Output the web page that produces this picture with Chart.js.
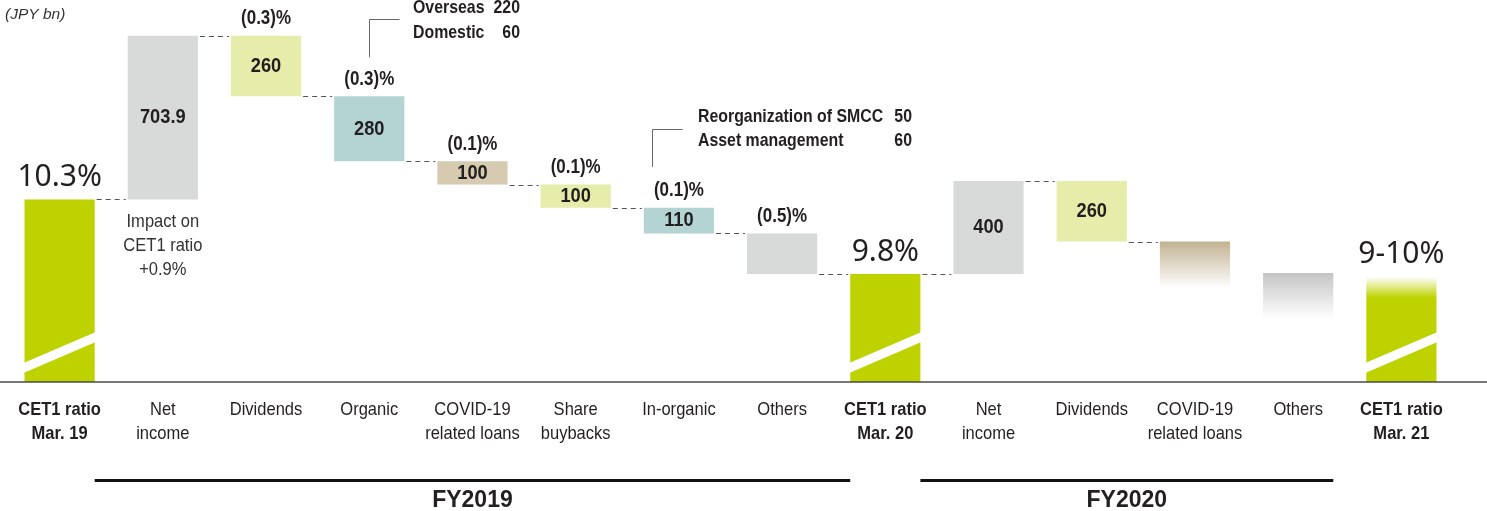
<!DOCTYPE html>
<html>
<head>
<meta charset="utf-8">
<script src="https://cdn.jsdelivr.net/npm/chart.js@4.4.1/dist/chart.umd.min.js"></script>
<style>
  html, body { margin: 0; padding: 0; background: #fff; }
</style>
</head>
<body>
<canvas id="myChart" width="1487" height="511"></canvas>
<script>
const categories = [
    ['CET1 ratio', 'Mar. 19'], ['Net', 'income'], ['Dividends'], ['Organic'],
    ['COVID-19', 'related loans'], ['Share', 'buybacks'], ['In-organic'], ['Others'],
    ['CET1 ratio', 'Mar. 20'], ['Net', 'income'], ['Dividends'],
    ['COVID-19', 'related loans'], ['Others'], ['CET1 ratio', 'Mar. 21']
];

// floating bar ranges on the drawing scale (JPY bn; CET1 bars are cut, not to scale)
const barFrom = [0, 785, 1229, 949, 849, 749, 639, 464, 0, 464, 604, 404, 274, 0];
const barTo = [785, 1489, 1489, 1229, 949, 849, 749, 639, 464, 864, 864, 604, 469, 452];

// level of the dashed line joining bar i to bar i + 1
const connectorLevels = [785, 1489, 1229, 949, 849, 749, 639, 464, 464, 864, 604, null, null];

const amountLabels = ['', '703.9', '260', '280', '100', '100', '110', '', '', '400', '260', '', '', ''];
const ratioLabels = ['10.3%', '', '(0.3)%', '(0.3)%', '(0.1)%', '(0.1)%', '(0.1)%', '(0.5)%', '9.8%', '', '', '', '', '9-10%'];
const impactLines = ['Impact on', 'CET1 ratio', '+0.9%'];
const organicNote = [['Overseas', '220'], ['Domestic', '60']];
const inorganicNote = [['Reorganization of SMCC', '50'], ['Asset management', '60']];
const fyLabels = ['FY2019', 'FY2020'];

const cetIndex = [0, 8, 13];
const textColor = '#231f20';
const barColors = ['#bed200', '#d8dad9', '#e6eca9', '#b3d4d2', '#d6cab1', '#e6eca9', '#b3d4d2',
    '#d8dad9', '#bed200', '#d8dad9', '#e6eca9', '#c2b293', '#c4c4c4', '#bed200'];

// the print uses a condensed gothic, so squeeze Liberation Sans a bit
function narrowText(ctx, text, x, y, size, weight, align, squeeze) {
    ctx.save();
    ctx.font = weight + ' ' + size + 'px "Liberation Sans", Arial, sans-serif';
    ctx.textAlign = align || 'center';
    ctx.textBaseline = 'middle';
    ctx.translate(x, y);
    ctx.scale(squeeze || 0.87, 1);
    ctx.fillText(text, 0, 0);
    ctx.restore();
}

// FY2020 estimates fade out
function barFill(context) {
    const i = context.dataIndex;
    const chart = context.chart;
    const color = barColors[i];
    if (!chart.chartArea || i < 11) return color;
    const y = chart.scales.y;
    const top = y.getPixelForValue(barTo[i]);
    const bottom = y.getPixelForValue(barFrom[i]);
    const g = chart.ctx.createLinearGradient(0, top, 0, bottom);
    if (i === 13) {
        g.addColorStop(0, '#ffffff');
        g.addColorStop(0.2, color);
        g.addColorStop(1, color);
    } else {
        g.addColorStop(0, color);
        g.addColorStop(1, '#ffffff');
    }
    return g;
}

const drawExtras = {
    id: 'drawExtras',
    afterDatasetsDraw(chart) {
        const ctx = chart.ctx;
        const bars = chart.getDatasetMeta(0).data;
        const y = chart.scales.y;
        const axisY = chart.chartArea.bottom;
        ctx.save();

        // cut marks on the CET1 bars
        ctx.fillStyle = '#fff';
        cetIndex.forEach(i => {
            const b = bars[i];
            const l = b.x - b.width / 2 - 1;
            const r = b.x + b.width / 2 + 1;
            ctx.beginPath();
            ctx.moveTo(l, b.base - 9);
            ctx.lineTo(r, b.base - 40);
            ctx.lineTo(r, b.base - 50);
            ctx.lineTo(l, b.base - 19);
            ctx.closePath();
            ctx.fill();
        });

        // dashed connectors
        ctx.strokeStyle = '#555';
        ctx.lineWidth = 1;
        ctx.setLineDash([5, 4]);
        connectorLevels.forEach((v, i) => {
            if (v === null) return;
            const a = bars[i];
            const b = bars[i + 1];
            const py = Math.round(y.getPixelForValue(v)) + 0.5;
            ctx.beginPath();
            ctx.moveTo(a.x + a.width / 2 + 2, py);
            ctx.lineTo(b.x - b.width / 2 - 2, py);
            ctx.stroke();
        });
        ctx.setLineDash([]);

        // axis line
        ctx.strokeStyle = '#4a4a4a';
        ctx.lineWidth = 1.5;
        ctx.beginPath();
        ctx.moveTo(0, axisY);
        ctx.lineTo(chart.width, axisY);
        ctx.stroke();

        ctx.fillStyle = textColor;

        // category labels
        bars.forEach((b, i) => {
            const weight = cetIndex.includes(i) ? 'bold' : 'normal';
            categories[i].forEach((t, k) => {
                narrowText(ctx, t, b.x, axisY + 28 + k * 24, 19, weight);
            });
        });

        // labels in and above the bars
        bars.forEach((b, i) => {
            if (amountLabels[i]) {
                narrowText(ctx, amountLabels[i], b.x, (b.y + b.base) / 2, 21, 'bold');
            }
            if (ratioLabels[i]) {
                if (cetIndex.includes(i)) {
                    ctx.font = '30px "Noto Sans", sans-serif';
                    ctx.textAlign = 'center';
                    ctx.textBaseline = 'middle';
                    ctx.fillText(ratioLabels[i], b.x, b.y - 22);
                } else {
                    narrowText(ctx, ratioLabels[i], b.x, b.y - 17, 19.5, 'bold');
                }
            }
        });

        // impact note under net income
        ctx.fillStyle = '#333';
        impactLines.forEach((t, k) => {
            narrowText(ctx, t, bars[1].x, bars[1].base + 22 + k * 24, 19, 'normal');
        });

        // breakdown notes with leader lines
        const notes = [
            { bar: bars[3], lines: organicNote, dx: 0, up: 39, topY: 19, textX: 413, numX: 520, firstY: 8, gap: 25 },
            { bar: bars[6], lines: inorganicNote, dx: -27, up: 41, topY: 129, textX: 698, numX: 912, firstY: 117, gap: 24 }
        ];
        notes.forEach(n => {
            const lx = Math.round(n.bar.x + n.dx) + 0.5;
            ctx.strokeStyle = '#666';
            ctx.lineWidth = 1;
            ctx.beginPath();
            ctx.moveTo(lx, n.bar.y - n.up);
            ctx.lineTo(lx, n.topY + 0.5);
            ctx.lineTo(lx + 30, n.topY + 0.5);
            ctx.stroke();
            ctx.fillStyle = textColor;
            n.lines.forEach((pair, k) => {
                const ty = n.firstY + k * n.gap;
                narrowText(ctx, pair[0], n.textX, ty, 19, 'bold', 'left', 0.835);
                narrowText(ctx, pair[1], n.numX, ty, 19, 'bold', 'right', 0.835);
            });
        });

        // unit
        ctx.textAlign = 'left';
        ctx.textBaseline = 'middle';
        ctx.font = 'italic 15.5px "Liberation Sans", sans-serif';
        ctx.fillStyle = '#333';
        ctx.fillText('(JPY bn)', 5, 15);

        // fiscal year brackets
        const half = bars[0].width / 2;
        const spans = [
            [bars[0].x + half, bars[8].x - half],
            [bars[8].x + half, bars[12].x + half]
        ];
        ctx.strokeStyle = '#111';
        ctx.lineWidth = 3;
        ctx.textAlign = 'center';
        ctx.font = 'bold 23px "Liberation Sans", sans-serif';
        ctx.fillStyle = textColor;
        spans.forEach((s, k) => {
            ctx.beginPath();
            ctx.moveTo(s[0], 480.5);
            ctx.lineTo(s[1], 480.5);
            ctx.stroke();
            ctx.fillText(fyLabels[k], (s[0] + s[1]) / 2, 501);
        });

        ctx.restore();
    }
};

const chart = new Chart(document.getElementById('myChart'), {
    type: 'bar',
    data: {
        labels: categories,
        datasets: [{
            data: barFrom.map((v, i) => [v, barTo[i]]),
            backgroundColor: barFill,
            borderWidth: 0,
            barPercentage: 0.68,
            categoryPercentage: 1
        }]
    },
    options: {
        responsive: false,
        animation: false,
        layout: { padding: { left: 8, right: 34, top: 0, bottom: 0 } },
        plugins: {
            legend: { display: false },
            tooltip: { enabled: false }
        },
        scales: {
            x: {
                grid: { display: false, drawTicks: false },
                border: { display: false },
                ticks: { display: false },
                afterFit: (scale) => {
                    scale.height = 129;
                    scale.paddingLeft = 0;
                    scale.paddingRight = 0;
                }
            },
            y: {
                display: false,
                min: 0,
                max: 1643
            }
        }
    },
    plugins: [drawExtras]
});
</script>
</body>
</html>
